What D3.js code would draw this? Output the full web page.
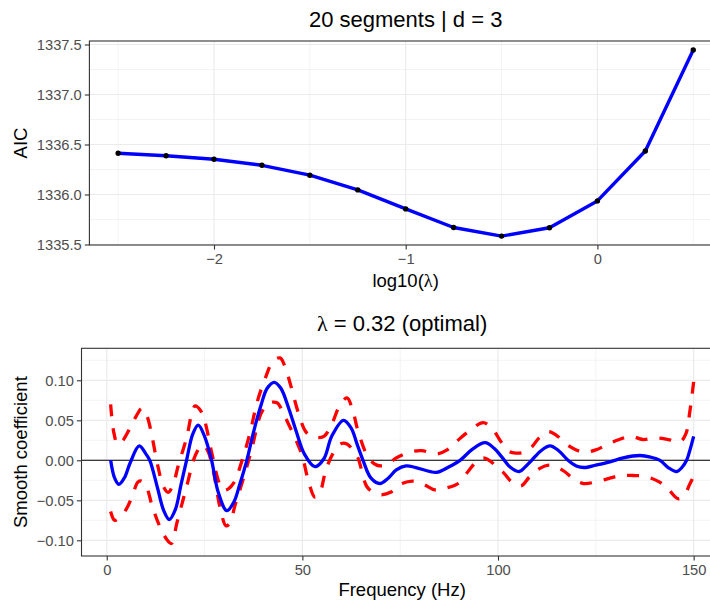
<!DOCTYPE html>
<html>
<head>
<meta charset="utf-8">
<script src="https://cdn.jsdelivr.net/npm/d3@7"></script>
<style>
  body { margin: 0; background: #fff; }
  text { font-family: "Liberation Sans", Arial, sans-serif; }
</style>
</head>
<body>
<svg id="canvas"></svg>
<script>
// top panel: AIC over the lambda grid
let logLambda = [-2.5, -2.25, -2, -1.75, -1.5, -1.25, -1, -0.75, -0.5, -0.25, 0, 0.25, 0.5];
let aic = [1336.412, 1336.388, 1336.352, 1336.292, 1336.193, 1336.046, 1335.856,
           1335.670, 1335.584, 1335.667, 1335.936, 1336.435, 1337.446];
let aicTicksX = [-2, -1, 0];
let aicTicksY = [1335.5, 1336.0, 1336.5, 1337.0, 1337.5];

// bottom panel: smooth coefficient [frequency, value]
let smoothFit = [
  [1,0.000],[2,-0.022],[3.1,-0.030],[4.5,-0.022],[6,-0.003],[8.3,0.018],[10,0.008],[11,0.000],
  [13,-0.035],[14.5,-0.062],[16,-0.074],[17.5,-0.062],[19,-0.030],[20.4,0.000],[22,0.033],
  [23.4,0.044],[25,0.030],[26.8,0.000],[28.5,-0.040],[30.7,-0.063],[32.5,-0.052],[34,-0.030],
  [35.8,0.000],[37.5,0.035],[39.5,0.070],[41,0.090],[42.8,0.0975],[44.5,0.090],[46.5,0.065],
  [48.5,0.035],[50.5,0.008],[53.2,-0.008],[55.5,0.002],[57.5,0.030],[60.5,0.050],[62.5,0.040],
  [64,0.020],[65.5,0.000],[67.5,-0.022],[69.8,-0.029],[72,-0.022],[74,-0.012],[76.5,-0.007],
  [79,-0.009],[84.3,-0.015],[87.5,-0.008],[90.3,0.000],[93.5,0.014],[96.7,0.022],[99,0.015],
  [101,0.004],[103,-0.008],[105.4,-0.014],[107,-0.008],[108.6,0.000],[111,0.012],[113.3,0.018],
  [115.5,0.012],[117.9,0.000],[120,-0.007],[122,-0.009],[125,-0.006],[128.6,-0.002],[132,0.003],
  [136.3,0.006],[139,0.004],[141.4,0.000],[143.5,-0.009],[145.7,-0.014],[147,-0.009],
  [148.2,0.000],[149,0.012],[150,0.030]
];
let upperBand = [
  [1,0.070],[1.8,0.035],[2.8,0.020],[4,0.024],[5.7,0.038],[7.5,0.055],[9,0.065],[10.3,0.055],
  [11.6,0.029],[13.1,-0.008],[14.5,-0.033],[15.7,-0.040],[17,-0.030],[18.2,-0.008],[20.5,0.030],
  [21.8,0.060],[22.6,0.068],[24,0.062],[25,0.050],[26.9,0.008],[28.5,-0.025],[29.6,-0.037],
  [31,-0.036],[32.5,-0.028],[34.6,0.000],[36.7,0.036],[38.4,0.072],[40.7,0.105],[42.5,0.124],
  [44.3,0.128],[45.5,0.118],[47,0.094],[49,0.059],[51,0.035],[53,0.029],[55.5,0.030],
  [57.5,0.045],[59.5,0.068],[61.4,0.078],[63,0.060],[64.2,0.037],[66.8,0.004],[69,-0.006],
  [71.5,-0.006],[74,0.003],[77.3,0.010],[80.5,0.012],[84.4,0.008],[87,0.013],[89.5,0.024],
  [93,0.038],[96.2,0.047],[98.5,0.040],[100.5,0.025],[102.5,0.012],[104.5,0.009],[106.5,0.010],
  [108.5,0.016],[110.5,0.028],[112.8,0.036],[115,0.031],[117.5,0.020],[120,0.013],[122,0.010],
  [125,0.013],[128,0.020],[131,0.026],[134,0.030],[137,0.026],[140.3,0.028],[143.5,0.026],
  [146.5,0.023],[148,0.033],[149,0.060],[150,0.098]
];
let lowerBand = [
  [1,-0.064],[2,-0.075],[3,-0.073],[5,-0.061],[6.5,-0.045],[8,-0.027],[9,-0.026],[10.3,-0.035],
  [11.6,-0.057],[13.5,-0.082],[15.5,-0.100],[16.5,-0.104],[18,-0.077],[20.3,-0.035],[22.8,0.008],
  [24.5,0.019],[25.8,0.012],[27.3,-0.015],[29,-0.060],[30.5,-0.082],[31.5,-0.078],[32.8,-0.056],
  [35.1,-0.020],[37.1,0.015],[39.4,0.058],[41.3,0.071],[43.5,0.072],[45,0.060],[46.3,0.047],
  [48.4,0.025],[50,0.005],[51.5,-0.025],[53.2,-0.046],[54.5,-0.040],[56,-0.012],[58,0.010],
  [60,0.021],[61.5,0.020],[63,0.012],[64.2,0.003],[66.5,-0.033],[68.5,-0.041],[70.5,-0.043],
  [72.5,-0.040],[75,-0.030],[78.3,-0.026],[81,-0.030],[83.9,-0.037],[86.5,-0.035],[89.8,-0.029],
  [92.5,-0.013],[94.6,-0.001],[96.2,0.003],[98,-0.001],[100,-0.010],[101.5,-0.016],[103.5,-0.027],
  [105.9,-0.032],[108,-0.021],[110.7,-0.010],[113,-0.006],[115,-0.008],[117,-0.014],[119.5,-0.024],
  [121.9,-0.029],[125,-0.027],[128.8,-0.022],[131.5,-0.019],[134.5,-0.019],[137.5,-0.020],
  [141.2,-0.027],[143.5,-0.036],[146,-0.048],[147.5,-0.044],[149,-0.030],[150,-0.020]
];
let freqTicks = [0, 50, 100, 150];
let coefTicks = [-0.10, -0.05, 0, 0.05, 0.10];

let width = 710;
let height = 602;

let canvas = d3.select('#canvas')
    .attr("width", width)
    .attr("height", height);

canvas.append("rect").attr("width", width).attr("height", height).attr("fill", "#fff");

// draws the grey grid, border and axes of one ggplot-style panel
function panel(box, x, y, xTicks, yTicks, xFmt, yFmt) {
    let g = canvas.append("g");
    let xMinor = xTicks.slice(1).map((d, i) => (d + xTicks[i]) / 2);
    let yMinor = yTicks.slice(1).map((d, i) => (d + yTicks[i]) / 2);
    // one extra minor line on each side when it still falls in the panel
    let xs = xTicks[1] - xTicks[0], ys = yTicks[1] - yTicks[0];
    [xTicks[0] - xs / 2, xTicks[xTicks.length - 1] + xs / 2].forEach(v => {
        if (v > x.domain()[0] && v < x.domain()[1]) xMinor.push(v);
    });
    [yTicks[0] - ys / 2, yTicks[yTicks.length - 1] + ys / 2].forEach(v => {
        if (v > y.domain()[0] && v < y.domain()[1]) yMinor.push(v);
    });

    g.selectAll(".minorx").data(xMinor).enter().append("line")
        .attr("x1", d => x(d)).attr("x2", d => x(d))
        .attr("y1", box.top).attr("y2", box.bottom)
        .attr("stroke", "#ebebeb").attr("stroke-width", 0.6);
    g.selectAll(".minory").data(yMinor).enter().append("line")
        .attr("y1", d => y(d)).attr("y2", d => y(d))
        .attr("x1", box.left).attr("x2", box.right)
        .attr("stroke", "#ebebeb").attr("stroke-width", 0.6);
    g.selectAll(".majorx").data(xTicks).enter().append("line")
        .attr("x1", d => x(d)).attr("x2", d => x(d))
        .attr("y1", box.top).attr("y2", box.bottom)
        .attr("stroke", "#ebebeb").attr("stroke-width", 1.2);
    g.selectAll(".majory").data(yTicks).enter().append("line")
        .attr("y1", d => y(d)).attr("y2", d => y(d))
        .attr("x1", box.left).attr("x2", box.right)
        .attr("stroke", "#ebebeb").attr("stroke-width", 1.2);

    let xAxis = canvas.append("g")
        .attr("transform", "translate(0," + box.bottom + ")")
        .call(d3.axisBottom(x).tickValues(xTicks).tickFormat(xFmt).tickSize(4.6).tickSizeOuter(0).tickPadding(4));
    let yAxis = canvas.append("g")
        .attr("transform", "translate(" + box.left + ",0)")
        .call(d3.axisLeft(y).tickValues(yTicks).tickFormat(yFmt).tickSize(4.6).tickSizeOuter(0).tickPadding(3));
    [xAxis, yAxis].forEach(a => {
        a.select(".domain").remove();
        a.selectAll(".tick line").attr("stroke", "#333333").attr("stroke-width", 1.1);
        a.selectAll(".tick text").attr("fill", "#4d4d4d")
            .style("font-size", "14.7px")
            .style("font-family", '"Liberation Sans", Arial, sans-serif');
    });
    return g;
}

function border(box) {
    canvas.append("rect")
        .attr("x", box.left).attr("y", box.top)
        .attr("width", box.right - box.left).attr("height", box.bottom - box.top)
        .attr("fill", "none").attr("stroke", "#333333").attr("stroke-width", 1.1);
}

// ---------- top panel ----------
let topBox = {left: 89.4, right: 722, top: 41, bottom: 245};
let xTop = d3.scaleLinear().domain([-2.65, 0.65]).range([topBox.left, topBox.right]);
let yTop = d3.scaleLinear().domain([1335.495, 1337.535]).range([topBox.bottom, topBox.top]);

let gTop = panel(topBox, xTop, yTop, aicTicksX, aicTicksY, d3.format("d"), d3.format(".1f"));

let aicData = logLambda.map((d, i) => [d, aic[i]]);
gTop.append("path")
    .datum(aicData)
    .attr("d", d3.line().x(d => xTop(d[0])).y(d => yTop(d[1])))
    .attr("fill", "none")
    .attr("stroke", "#0000ff")
    .attr("stroke-width", 3.4)
    .attr("stroke-linejoin", "round");
gTop.selectAll("circle")
    .data(aicData)
    .enter()
    .append("circle")
    .attr("cx", d => xTop(d[0]))
    .attr("cy", d => yTop(d[1]))
    .attr("r", 2.7)
    .attr("fill", "#000");
border(topBox);

canvas.append("text")
    .attr("x", (topBox.left + topBox.right) / 2).attr("y", 27)
    .attr("text-anchor", "middle").style("font-size", "22px")
    .text("20 segments | d = 3");
let xlabTop = canvas.append("text")
    .attr("x", (topBox.left + topBox.right) / 2).attr("y", 286.5)
    .attr("text-anchor", "middle").style("font-size", "18.5px");
xlabTop.append("tspan").text("log10(");
xlabTop.append("tspan").style("font-family", '"Liberation Serif", serif').text("λ");
xlabTop.append("tspan").text(")");
canvas.append("text")
    .attr("transform", "translate(26.5," + (topBox.top + topBox.bottom) / 2 + ") rotate(-90)")
    .attr("text-anchor", "middle").style("font-size", "18.5px")
    .text("AIC");

// ---------- bottom panel ----------
let botBox = {left: 81.5, right: 722.8, top: 348.3, bottom: 556};
let xBot = d3.scaleLinear().domain([-6.45, 157.45]).range([botBox.left, botBox.right]);
let yBot = d3.scaleLinear().domain([-0.1196, 0.14]).range([botBox.bottom, botBox.top]);

let gBot = panel(botBox, xBot, yBot, freqTicks, coefTicks, d3.format("d"), d3.format(".2f"));

gBot.append("line")
    .attr("x1", botBox.left).attr("x2", botBox.right)
    .attr("y1", yBot(0)).attr("y2", yBot(0))
    .attr("stroke", "#000").attr("stroke-width", 1.1);

let curve = d3.line()
    .x(d => xBot(d[0]))
    .y(d => yBot(d[1]))
    .curve(d3.curveCatmullRom.alpha(0.5));

[upperBand, lowerBand].forEach(band => {
    gBot.append("path")
        .datum(band)
        .attr("d", curve)
        .attr("fill", "none")
        .attr("stroke", "#ff0000")
        .attr("stroke-width", 3.3)
        .attr("stroke-dasharray", "12,12");
});
gBot.append("path")
    .datum(smoothFit)
    .attr("d", curve)
    .attr("fill", "none")
    .attr("stroke", "#0000ff")
    .attr("stroke-width", 3.3);
border(botBox);

let titleBot = canvas.append("text")
    .attr("x", (botBox.left + botBox.right) / 2).attr("y", 331)
    .attr("text-anchor", "middle").style("font-size", "22px");
titleBot.append("tspan").style("font-family", '"Liberation Serif", serif').text("λ");
titleBot.append("tspan").text(" = 0.32 (optimal)");
canvas.append("text")
    .attr("x", (botBox.left + botBox.right) / 2).attr("y", 596)
    .attr("text-anchor", "middle").style("font-size", "18.5px")
    .text("Frequency (Hz)");
canvas.append("text")
    .attr("transform", "translate(26.5," + (botBox.top + botBox.bottom) / 2 + ") rotate(-90)")
    .attr("text-anchor", "middle").style("font-size", "18.5px")
    .text("Smooth coefficient");
</script>
</body>
</html>
